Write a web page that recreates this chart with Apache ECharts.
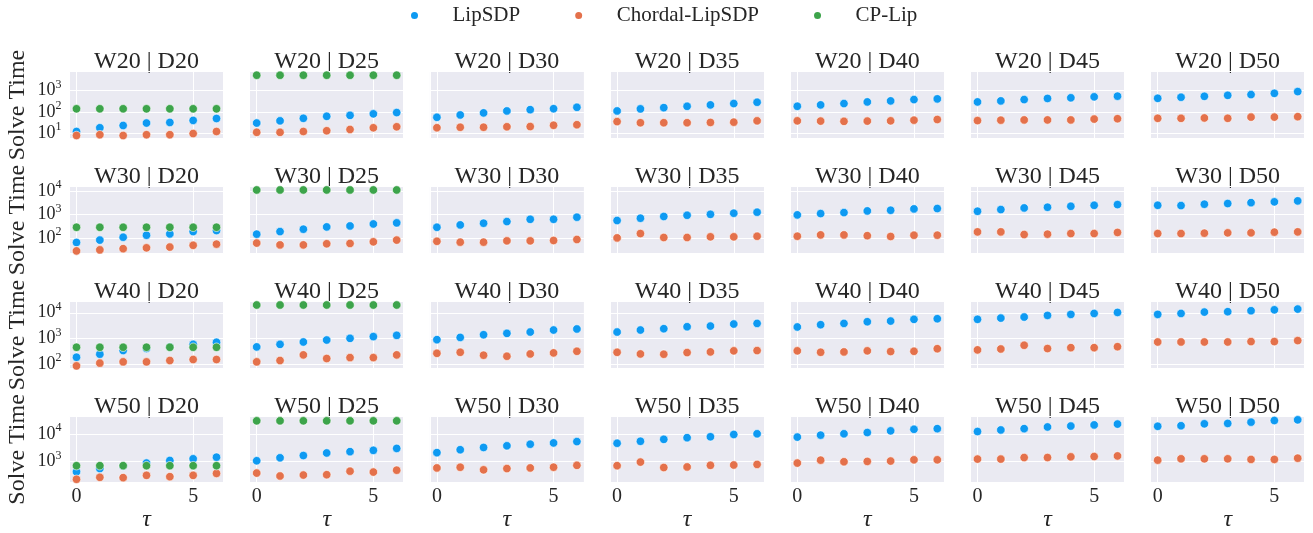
<!DOCTYPE html>
<html><head><meta charset="utf-8">
<script src="https://cdn.jsdelivr.net/npm/echarts@6/dist/echarts.min.js"></script>
<style>html,body{margin:0;padding:0;background:#fff}#c{width:1313px;height:533px}</style>
</head><body><div id="c"></div>
<script>
// ---------------- data ----------------
const tau = [0, 1, 2, 3, 4, 5, 6];
const widths = ['W20', 'W30', 'W40', 'W50'];
const depths = ['D20', 'D25', 'D30', 'D35', 'D40', 'D45', 'D50'];
const methods = ['LipSDP', 'Chordal-LipSDP', 'CP-Lip'];

// LipSDP solve time, one array per depth (D20..D50), values for tau = 0..6
const lipW20 = [
  [12, 18, 23, 30, 32, 40, 49],
  [30, 38, 50, 62, 69, 81, 93],
  [56, 72, 90, 111, 128, 142, 165],
  [111, 139, 159, 184, 214, 247, 285],
  [184, 214, 247, 295, 330, 380, 410],
  [295, 330, 380, 430, 460, 510, 550],
  [435, 490, 540, 600, 650, 745, 900]
];
const lipW30 = [
  [66, 83, 110, 134, 152, 190, 210],
  [148, 190, 240, 300, 330, 400, 445],
  [290, 365, 430, 505, 630, 630, 775],
  [560, 700, 830, 935, 1020, 1140, 1260],
  [970, 1100, 1210, 1430, 1520, 1740, 1800],
  [1380, 1630, 1910, 2040, 2250, 2470, 2640],
  [2470, 2400, 2740, 2930, 3200, 3450, 3800]
];
const lipW40 = [
  [186, 245, 340, 410, 470, 590, 710],
  [470, 590, 730, 870, 1010, 1180, 1320],
  [900, 1100, 1400, 1580, 1780, 2130, 2340],
  [1780, 2130, 2400, 2860, 3030, 3640, 3860],
  [2800, 3440, 3860, 4480, 4750, 5540, 5860],
  [5540, 6200, 6800, 7900, 8650, 9400, 10300],
  [8650, 9400, 10600, 11000, 12000, 13000, 13900]
];
const lipW50 = [
  [420, 550, 680, 870, 1080, 1240, 1420],
  [1055, 1350, 1630, 2020, 2260, 2510, 2960],
  [2080, 2650, 3200, 3670, 4200, 4680, 5220],
  [4560, 5360, 6300, 7230, 7830, 9470, 10000],
  [7600, 8950, 10000, 11100, 12800, 14600, 15400],
  [12100, 13800, 15400, 17700, 19100, 21000, 22500],
  [18700, 19600, 23000, 23800, 26500, 30300, 32000]
];

// Chordal-LipSDP solve time
const chordW20 = [
  [7.8, 8.5, 7.8, 8.5, 8.5, 9.6, 12],
  [11, 11, 12, 13, 15, 18, 20],
  [18, 19, 19, 20, 20.5, 23.5, 25],
  [35, 31, 31, 31, 32, 33, 38],
  [38, 37, 36, 37, 38, 41, 44],
  [39, 41, 42, 42, 42, 46, 48],
  [50, 50, 52, 50, 57, 57, 60]
];
const chordW30 = [
  [29, 32, 36, 39, 42, 50, 56],
  [62, 52, 52, 58, 60, 70, 83],
  [74, 68, 68, 77, 77, 80, 88],
  [103, 157, 107, 107, 114, 114, 121],
  [121, 138, 138, 128, 118, 134, 134],
  [185, 185, 143, 148, 157, 157, 175],
  [157, 157, 163, 168, 168, 180, 185]
];
const chordW40 = [
  [86, 110, 123, 123, 139, 152, 152],
  [123, 139, 230, 166, 180, 180, 230],
  [265, 290, 223, 204, 250, 275, 318],
  [290, 250, 244, 283, 300, 330, 338],
  [330, 290, 300, 330, 310, 318, 400],
  [360, 390, 545, 405, 440, 440, 480],
  [730, 730, 730, 730, 755, 755, 825]
];
const chordW50 = [
  [225, 265, 258, 312, 280, 312, 367],
  [377, 296, 320, 330, 443, 410, 480],
  [580, 615, 495, 550, 580, 615, 720],
  [700, 945, 600, 630, 720, 740, 780],
  [870, 1110, 970, 1000, 1030, 1140, 1140],
  [1210, 1210, 1380, 1380, 1460, 1500, 1580],
  [1110, 1240, 1240, 1240, 1180, 1180, 1310]
];

// CP-Lip solve time (only D20 and D25)
const cpW20 = [
  [140, 140, 140, 140, 140, 140, 140],
  [5300, 5300, 5300, 5300, 5300, 5300, 5300]
];
const cpW30 = [
  [290, 290, 290, 290, 290, 290, 290],
  [11000, 11000, 11000, 11000, 11000, 11000, 11000]
];
const cpW40 = [
  [455, 455, 455, 455, 455, 455, 455],
  [20000, 20000, 20000, 20000, 20000, 20000, 20000]
];
const cpW50 = [
  [700, 700, 700, 700, 700, 700, 700],
  [29500, 29500, 29500, 29500, 29500, 29500, 29500]
];

// ---------------- layout / style ----------------
const lipRows = [lipW20, lipW30, lipW40, lipW50];
const chordRows = [chordW20, chordW30, chordW40, chordW50];
const cpRows = [cpW20, cpW30, cpW40, cpW50];

const FONT = '"Liberation Serif", "DejaVu Serif", serif';
const TXT = '#262626';
const colors = { 'LipSDP': '#0e9af2', 'Chordal-LipSDP': '#e4714b', 'CP-Lip': '#3da44b' };
const gridL0 = 69.5, colPitch = 180.2, gridW = 154;
const gridT0 = 71.7, rowPitch = 115, gridH = 66.6;
const yLog = [[0.76, 3.89], [1.36, 4.18], [1.84, 4.43], [2.25, 4.62]];

const grids = [], xAxes = [], yAxes = [], series = [], graphics = [];

function mk(name, i, vals) {
  return {
    type: 'scatter', name: name, xAxisIndex: i, yAxisIndex: i,
    data: tau.map((t, k) => [t, vals[k]]),
    symbol: 'circle', symbolSize: 8.5,
    itemStyle: { color: colors[name], borderColor: '#ffffff', borderWidth: 0.6, opacity: 1 },
    emphasis: { disabled: true }
  };
}

for (let r = 0; r < widths.length; r++) {
  for (let c = 0; c < depths.length; c++) {
    const i = r * depths.length + c;
    const left = gridL0 + c * colPitch;
    const top = gridT0 + r * rowPitch;
    grids.push({
      left: left, top: top, width: gridW, height: gridH,
      show: true, backgroundColor: '#EAEAF2', borderWidth: 0, containLabel: false
    });
    xAxes.push({
      gridIndex: i, type: 'value', min: -0.3, max: 6.3, splitNumber: 1,
      axisLine: { show: false }, axisTick: { show: false },
      splitLine: { show: true, lineStyle: { color: '#ffffff', width: 1 } },
      axisLabel: {
        show: r === widths.length - 1, showMinLabel: false, showMaxLabel: false,
        fontSize: 20, fontFamily: FONT, color: TXT, margin: 5,
        formatter: v => (Math.abs(v - Math.round(v)) < 1e-9 ? String(Math.round(v)) : '')
      },
      name: r === widths.length - 1 ? 'τ' : '',
      nameLocation: 'middle', nameGap: 24,
      nameTextStyle: { fontSize: 24, fontStyle: 'italic', fontFamily: FONT, color: TXT }
    });
    yAxes.push({
      gridIndex: i, type: 'log', logBase: 10,
      min: Math.pow(10, yLog[r][0]), max: Math.pow(10, yLog[r][1]),
      axisLine: { show: false }, axisTick: { show: false },
      splitLine: { show: true, lineStyle: { color: '#ffffff', width: 1 } },
      minorSplitLine: { show: false },
      axisLabel: {
        show: c === 0, showMinLabel: false, showMaxLabel: false, margin: 8,
        formatter: v => {
          const e = Math.round(Math.log10(v));
          if (Math.abs(Math.log10(v) - e) > 1e-6) return '';
          return '{a|10}{b|' + e + '}';
        },
        rich: {
          a: { fontSize: 18, fontFamily: FONT, color: TXT, lineHeight: 24 },
          b: { fontSize: 12, fontFamily: FONT, color: TXT, lineHeight: 14, verticalAlign: 'top' }
        }
      },
      name: c === 0 ? 'Solve Time' : '',
      nameLocation: 'middle', nameGap: 40, nameRotate: 90,
      nameTextStyle: { fontSize: 24, fontFamily: FONT, color: TXT }
    });
    series.push(mk('LipSDP', i, lipRows[r][c]));
    series.push(mk('Chordal-LipSDP', i, chordRows[r][c]));
    if (c < cpRows[r].length) series.push(mk('CP-Lip', i, cpRows[r][c]));
    graphics.push({
      type: 'text', x: left + gridW / 2, y: top - 10, silent: true,
      style: {
        text: widths[r] + ' | ' + depths[c], font: '24px ' + FONT, fill: TXT,
        align: 'center', verticalAlign: 'middle'
      }
    });
  }
}

const chart = echarts.init(document.getElementById('c'), null, { renderer: 'canvas' });
chart.setOption({
  animation: false,
  backgroundColor: '#ffffff',
  legend: {
    data: methods, left: 404, top: 0, icon: 'circle',
    itemWidth: 66, itemHeight: 9, itemGap: 53,
    textStyle: { fontSize: 21, fontFamily: FONT, color: TXT }
  },
  grid: grids, xAxis: xAxes, yAxis: yAxes, series: series, graphic: graphics
});
</script></body></html>
